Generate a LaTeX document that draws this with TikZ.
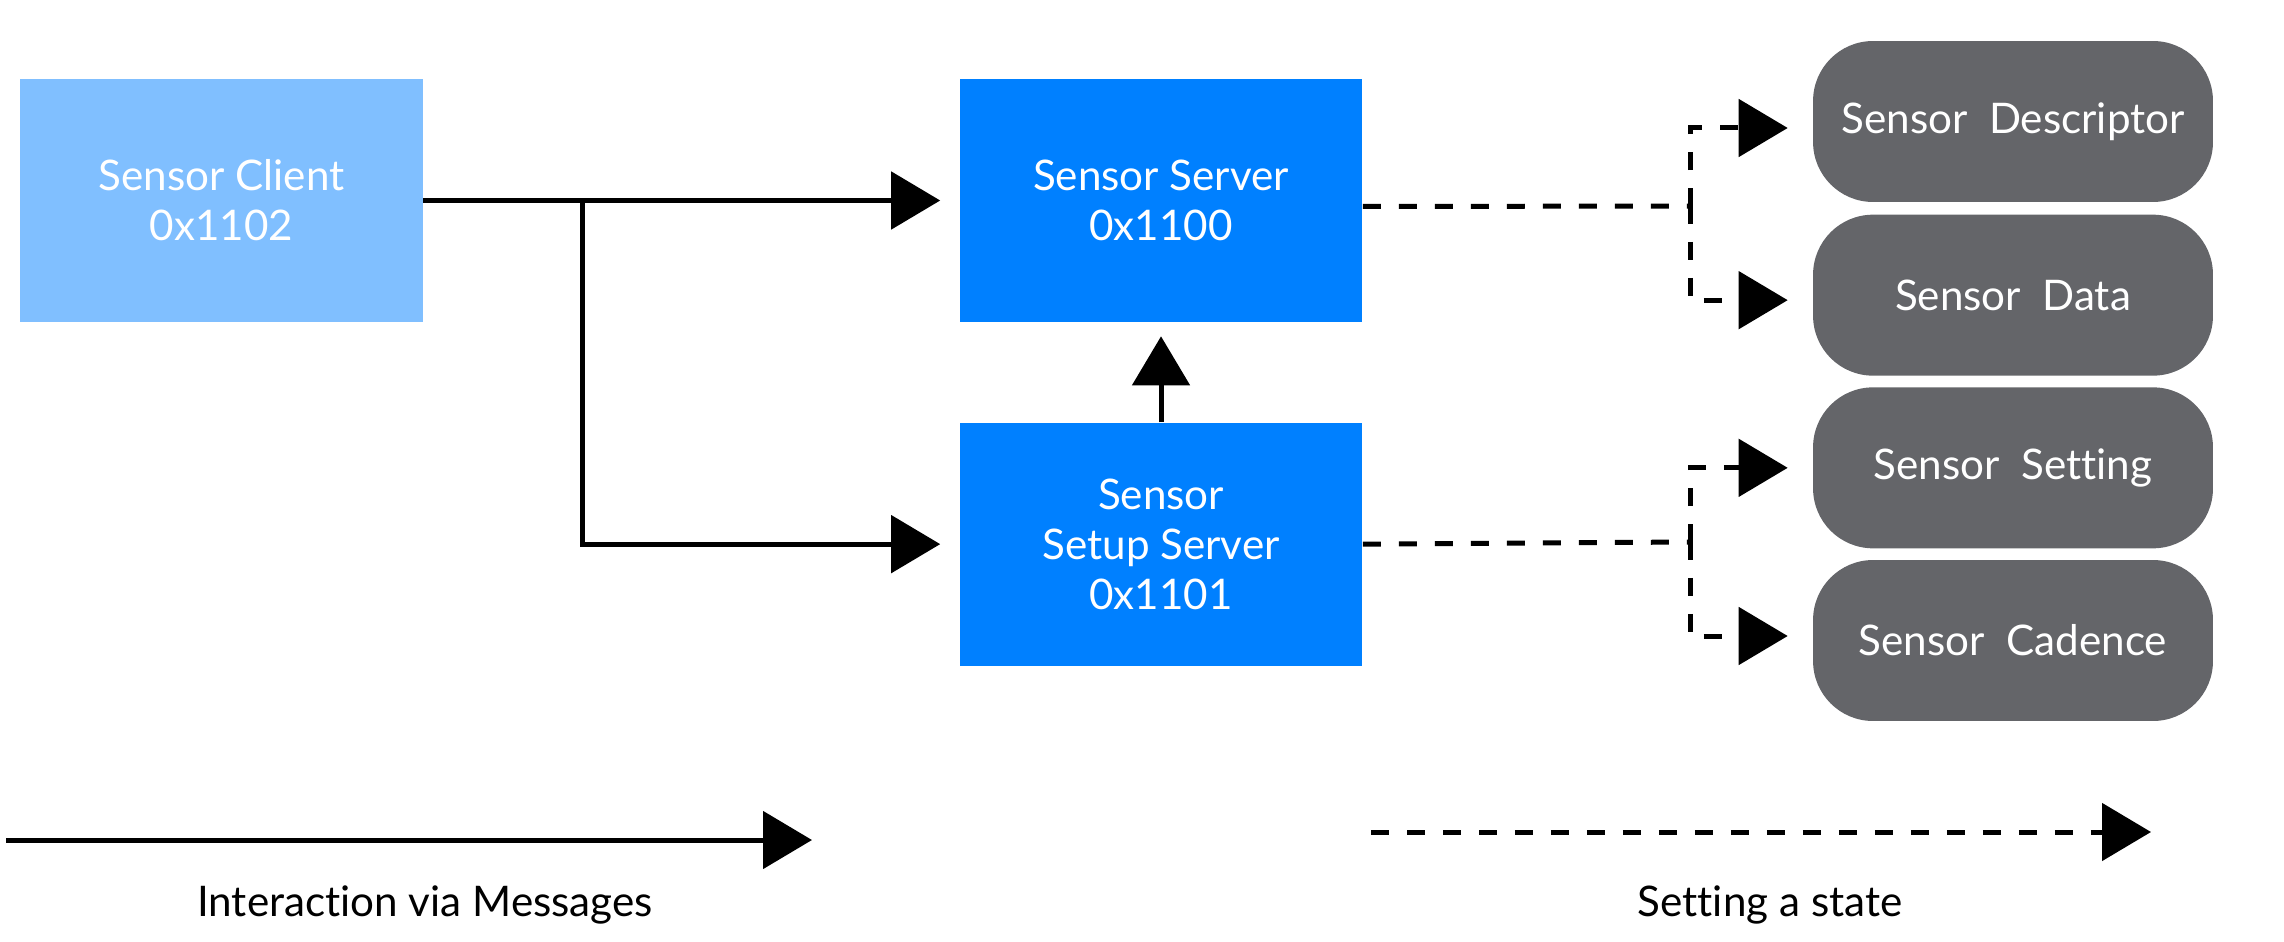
\documentclass[tikz,border=0pt]{standalone}
\usepackage{fontspec}
\setmainfont{Lato}[Ligatures={NoCommon,NoRare}]
\usetikzlibrary{positioning,arrows.meta}
\definecolor{clientblue}{HTML}{80BFFF}
\definecolor{serverblue}{HTML}{0080FF}
\definecolor{stategray}{HTML}{646569}
\newcommand{\boxfont}{\fontsize{24}{28.5}\selectfont}

\begin{document}
\begin{tikzpicture}[x=0.02cm, y=-0.02cm,
    box/.style = {minimum width=8.06cm, minimum height=4.86cm, inner sep=0pt, align=center, text=white, font=\boxfont},
    client/.style = {box, fill=clientblue},
    server/.style = {box, fill=serverblue},
    state/.style = {rounded corners=1.2cm, fill=stategray, minimum width=8cm, minimum height=3.22cm, inner sep=0pt, text=white, font=\boxfont},
    legend/.style = {font=\boxfont},
    msgline/.style = {line width=0.1cm, -{Triangle[length=0.98cm,width=1.14cm]}},
    stateline/.style = {msgline, dash pattern=on 0.36cm off 0.36cm}]
    \useasboundingbox (0,0) rectangle (2284,942);
    \node[client] (client) at (221.5,200.5) {Sensor Client\\0x1102};
    \node[server] (server) [right=10.72cm of client] {Sensor Server\\0x1100};
    \node[server] (setup) [below=2cm of server] {Sensor\\Setup Server\\0x1101};
    \node[state] (desc) at (2013,121.5) {Sensor\ \ Descriptor};
    \node[state] (data) [below=0.24cm of desc] {Sensor\ \ Data};
    \node[state] (setting) [below=0.22cm of data] {Sensor\ \ Setting};
    \node[state] (cadence) [below=0.22cm of setting] {Sensor\ \ Cadence};
    % messages
    \path (client.east) -- (server.west) coordinate[pos=0.297] (split);
    \draw[msgline, shorten >=0.38cm] (client.east) -- (server.west);
    \draw[msgline, shorten >=0.38cm] (split) |- (setup.west);
    \draw[msgline, shorten >=0.28cm] (setup) -- (server);
    % states
    \coordinate (hub1) at (1690,206);
    \coordinate (hub2) at (1690,542);
    \draw[stateline, -] ([yshift=-0.12cm]server.east) -- (hub1);
    \draw[stateline, shorten >=0.5cm] (hub1) |- ([yshift=-0.13cm]desc.west);
    \draw[stateline, shorten >=0.5cm] (hub1) |- ([yshift=-0.1cm]data.west);
    \draw[stateline, -] (setup.east) -- (hub2);
    \draw[stateline, shorten >=0.5cm] (hub2) |- (setting.west);
    \draw[stateline, shorten >=0.5cm] (hub2) |- ([yshift=0.09cm]cadence.west);
    % legend
    \coordinate (msgfrom) at (6,840);
    \coordinate (msgto) at (812,840);
    \coordinate (statefrom) at (1371,832);
    \coordinate (stateto) at (2151,832);
    \draw[msgline] (msgfrom) -- (msgto);
    \draw[stateline] (statefrom) -- (stateto);
    \node[legend] (msglabel) at (425,905) {Interaction via Messages};
    \node[legend] (statelabel) at (1770,905) {Setting a state};
\end{tikzpicture}
\end{document}
